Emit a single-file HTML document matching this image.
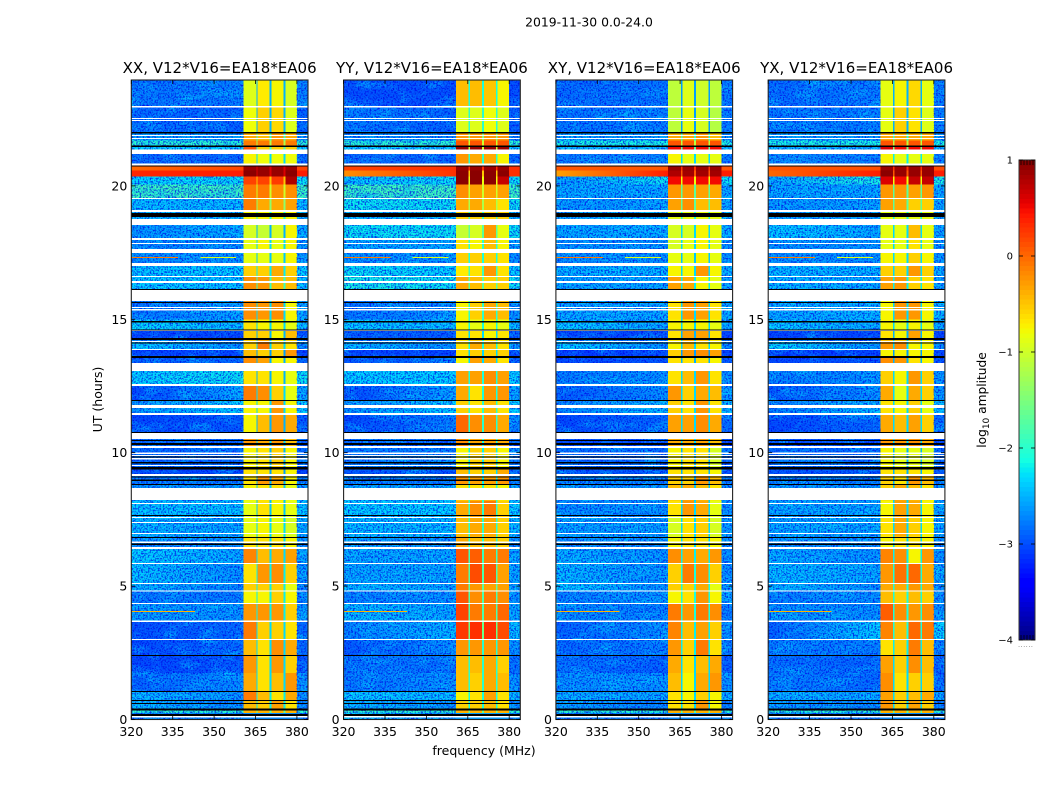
<!DOCTYPE html>
<html>
<head>
<meta charset="utf-8">
<title>2019-11-30 amplitude waterfall</title>
<style>
html,body{margin:0;padding:0;background:#fff;width:1050px;height:800px;overflow:hidden}
svg{display:block}
text{font-family:"DejaVu Sans","Liberation Sans",sans-serif;fill:#000}
</style>
</head>
<body>
<svg id="chart" xmlns="http://www.w3.org/2000/svg" width="1050" height="800" viewBox="0 0 1050 800">
  <defs>
    <filter id="speckle" x="0" y="0" width="1" height="1" color-interpolation-filters="sRGB">
      <feTurbulence type="fractalNoise" baseFrequency="0.6" numOctaves="2" seed="7" result="fine"/>
      <feColorMatrix in="fine" type="matrix" values="0 0 0 0 0  1.6 0 0 0 -0.75  0 0 0 0 0.9  0 4.5 0 0 -2" result="specks"/>
      <feTurbulence type="fractalNoise" baseFrequency="0.05 0.09" numOctaves="3" seed="11" result="coarse"/>
      <feColorMatrix in="coarse" type="matrix" values="0 0 0 0 0  0 0 0 0 0.8  0 0 0 0 1  2.2 0 0 0 -1" result="clouds"/>
      <feMerge>
        <feMergeNode in="clouds"/>
        <feMergeNode in="specks"/>
      </feMerge>
    </filter>
  </defs>
  <text x="589" y="26.5" font-size="12.4" text-anchor="middle">2019-11-30 0.0-24.0</text>
  <text x="484" y="755" font-size="12.5" text-anchor="middle">frequency (MHz)</text>
  <text x="102" y="399.5" font-size="12.5" text-anchor="middle" transform="rotate(-90 102 399.5)">UT (hours)</text>
  <text x="986" y="400" font-size="12.2" text-anchor="middle" transform="rotate(-90 986 400)">log<tspan font-size="9" dy="3">10</tspan><tspan dy="-3"> amplitude</tspan></text>
  <g id="panels"></g>
  <g id="colorbar"></g>
</svg>
<script>
const panelTitles = ["XX, V12*V16=EA18*EA06", "YY, V12*V16=EA18*EA06", "XY, V12*V16=EA18*EA06", "YX, V12*V16=EA18*EA06"];
const xTicks = [320, 335, 350, 365, 380];
const yTicks = [0, 5, 10, 15, 20];
const colorbarTicks = [1, 0, -1, -2, -3, -4];

// UT edges in hours of each time block, top to bottom.
const utEdges = [24,23,22,21.7,21.5,21.2,20.76,20.58,20.35,20.05,19.55,19.1,18.54,18.05,17.6,17.05,16.6,16.14,15,14.6,14.2,13.87,13.6,13.06,12.5,11.95,11.45,10.75,10.2,9.4,9.15,8.8,8.2,7.6,6.85,6.45,5.85,5.1,4.8,4.35,3.7,3,2.4,1.75,1.05,0.7,0.35,0.25,0];

// Frequency edges in MHz, and which value of a row fills each band:
// 2-5 sub-bands, 6 sub-band gaps, 1 the high-frequency edge.
const bandEdges = [360.7,365.3,365.8,370.1,370.8,375.2,375.8,380,384.1];
const bandSource = [2,6,3,6,4,6,5,1];
const backgroundSpan = [320, 360.7];

// log10 amplitude per block: [bgLow, bgHigh, sub1, sub2, sub3, sub4, gap]
const xxValues = [
[-2.75,-2.7,-0.9,-0.7,-0.75,-0.95,-2.5],[-2.8,-2.85,-0.8,-0.55,-0.6,-0.9,-2.5],[-2.5,-2.6,-0.35,-0.45,-0.25,-0.35,-1.9],[-2,-2,-0.1,-0.1,-0.1,-0.1,-1.2],
[-2.3,-2.3,0.1,-0.55,-0.55,-0.55,-1.8],[-2.8,-2.8,-0.75,-0.8,-0.8,-0.8,-2.3],[0,0.2,0.9,0.9,0.9,0.9,0.6],[0.35,0.4,0.95,0.9,0.9,0.95,0.6],
[-2.3,-2.2,0.2,0.2,0.25,0.8,-0.5],[-1.9,-1.9,-0.1,-0.1,-0.2,-0.2,-1],[-2.4,-2.4,-0.1,-0.35,-0.35,-0.3,-1.4],[-2.4,-2.4,-0.75,-0.75,-0.75,-0.75,-2.1],
[-2.6,-2.45,-0.95,-1.05,-0.95,-0.75,-2.5],[-2.65,-2.6,-0.85,-0.75,-0.85,-0.75,-2.3],[-2.6,-2.6,-0.85,-0.85,-0.85,-0.75,-2.4],[-2.35,-2.3,-0.55,-0.55,-0.35,-0.55,-2.2],
[-2.3,-2.35,-0.2,-0.25,-0.45,-0.45,-1.9],[-2.75,-2.5,-0.2,-0.25,-0.2,-0.75,-2.3],[-2.25,-2.4,-0.65,-0.75,-0.75,-0.85,-2.3],[-3,-3,-0.55,-0.55,-0.75,-0.45,-2.5],
[-2.3,-2.6,-0.55,-0.1,-0.55,-0.65,-2.3],[-3,-3,-0.45,-0.55,-0.55,-0.25,-2.6],[-2.9,-2.8,-0.2,-0.3,-0.75,-0.75,-2.5],[-2.3,-2.2,-0.65,-0.65,-0.75,-0.85,-2.5],
[-3,-2.5,-0.1,-0.2,-0.55,-0.85,-2.3],[-2.6,-2.3,-0.75,-0.75,-0.25,-0.75,-2.3],[-3,-2.9,-0.75,-0.45,-0.25,-0.35,-2.5],[-2.8,-2.8,-0.25,-0.35,-0.25,-0.45,-2.3],
[-2.8,-2.8,-0.75,-0.65,-0.55,-0.75,-2.5],[-3,-3,-0.65,-0.65,-0.65,-0.75,-2.6],[-2.7,-2.7,-0.65,-0.25,-0.35,-0.75,-2.5],[-2.6,-2.6,-0.75,-0.65,-0.65,-0.85,-2.4],
[-2.35,-2.35,-0.85,-0.65,-0.75,-0.85,-2.4],[-2.4,-2.5,-0.85,-0.75,-0.85,-0.95,-2.3],[-2.6,-2.6,-0.65,-0.65,-0.65,-0.75,-2.3],[-2.3,-2.5,-0.15,-0.45,-0.35,-0.3,-2.3],
[-2.35,-2.6,-0.65,-0.25,-0.2,-0.55,-2.2],[-2.4,-2.7,-0.55,-0.55,-0.55,-0.85,-2.2],[-2.7,-2.7,-0.75,-0.75,-0.55,-0.75,-2.2],[-2.55,-2.6,-0.25,-0.25,-0.25,-0.55,-2.2],
[-2.95,-2.8,-0.1,-0.55,-0.55,-0.65,-2.3],[-3,-2.8,-0.45,-0.65,-0.2,-0.35,-2.3],[-3,-2.9,-0.25,-0.65,-0.25,-0.55,-2.3],[-2.85,-2.6,-0.35,-0.65,-0.45,-0.25,-2.3],
[-2.4,-2.6,-0.1,-0.45,-0.65,-0.35,-2.2],[-2.35,-2.7,-0.45,-0.55,-0.3,-0.65,-2.2],[-2,-2,-0.4,-0.4,-0.4,-0.4,-1.6],[-2.7,-2.7,-2.7,-2.7,-2.7,-2.7,-2.7]];

const yyValues = [
[-2.95,-2.95,-0.45,-0.45,-0.5,-0.75,-2.1],[-2.7,-2.85,-0.9,-0.9,-0.8,-0.9,-2],[-2.6,-2.7,-0.25,-0.25,-0.25,-0.25,-1.5],[-2,-2,0.1,0.1,0.1,0.1,-1],
[-2.3,-2.3,0.9,0.9,0.9,0.9,-1],[-2.8,-2.8,-0.25,-0.35,-0.35,-0.75,-2],[0.2,0.3,0.9,0.9,0.9,0.9,0.3],[-0.2,0.3,0.95,0.95,0.95,0.95,-0.5],
[-2.4,-2.2,0.95,0.95,0.95,0.7,-0.8],[-1.9,-1.9,-0.2,-0.3,-0.3,-0.3,-1],[-2.2,-2.2,-0.35,-0.35,-0.45,-0.65,-1.2],[-2.4,-2.4,-0.55,-0.55,-0.55,-0.55,-1.9],
[-2.2,-2.2,-1.05,-0.95,-0.25,-0.85,-1.7],[-2.5,-2.5,-0.65,-0.75,-0.45,-0.75,-2],[-2.6,-2.6,-0.55,-0.55,-0.55,-0.65,-2.1],[-2.2,-2.3,-0.7,-0.65,-0.25,-0.65,-1.9],
[-2.1,-2.2,-0.35,-0.45,-0.55,-0.55,-1.7],[-2.75,-2.6,-0.75,-0.55,-0.35,-0.45,-2],[-2.3,-2.4,-0.75,-0.85,-0.75,-0.85,-2.1],[-2.9,-2.9,-0.65,-0.65,-0.75,-0.65,-2.3],
[-2.4,-2.6,-0.65,-0.35,-0.45,-0.65,-2.1],[-3,-3,-0.65,-0.55,-0.55,-0.55,-2.3],[-2.9,-2.8,-0.75,-0.3,-0.35,-0.65,-2.3],[-2.3,-2.3,-0.3,-0.3,-0.2,-0.3,-2.1],
[-3,-2.5,-0.35,-0.65,-0.25,-0.25,-2.1],[-2.6,-2.3,-0.55,-0.65,-0.45,-0.65,-2],[-3,-2.7,0,-0.2,-0.2,-0.35,-2],[-2.8,-2.8,-0.2,-0.3,-0.3,-0.35,-2.1],
[-2.7,-2.7,-0.75,-0.55,-0.55,-0.75,-2.2],[-2.9,-2.9,-0.45,-0.55,-0.55,-0.35,-2.3],[-2.7,-2.7,-0.25,-0.3,-0.3,-0.25,-2.2],[-2.5,-2.5,-0.65,-0.65,-0.65,-0.75,-2.1],
[-2.3,-2.3,-0.35,-0.2,-0.1,-0.55,-2],[-2.4,-2.4,-0.45,-0.35,-0.35,-0.55,-2],[-2.5,-2.6,-0.35,-0.45,-0.45,-0.55,-2],[-2.5,-2.5,0.1,0.05,-0.1,-0.1,-1.9],
[-2.5,-2.5,-0.1,0.15,0.1,-0.3,-1.8],[-2.4,-2.5,-0.1,-0.25,-0.3,-0.3,-1.7],[-2.7,-2.6,0.1,-0.2,-0.1,-0.2,-1.8],[-2.4,-2.5,0.2,-0.1,-0.1,0,-1.8],
[-2.7,-2.4,0.25,0.3,0.3,0.15,-1.6],[-2.9,-2.6,-0.25,-0.25,-0.25,-0.25,-2],[-2.75,-2.75,-0.45,-0.45,-0.35,-0.55,-2],[-2.75,-2.6,-0.45,-0.55,-0.35,-0.45,-2],
[-2.3,-2.4,-0.75,-0.65,-0.3,-0.65,-2.1],[-2.4,-2.6,-0.55,-0.55,-0.45,-0.65,-2.1],[-2,-2,-0.4,-0.4,-0.4,-0.4,-1.6],[-2.3,-2.6,-2.6,-2.6,-2.6,-2.6,-2.6]];

const xyValues = [
[-2.8,-2.75,-1.1,-0.9,-1,-1.1,-2.6],[-2.75,-2.7,-1.1,-0.85,-0.95,-1.15,-2.6],[-2.5,-2.6,-0.35,-0.35,-0.25,-0.45,-2],[-2.1,-2.1,0.1,0.1,0.1,0.1,-1.1],
[-2.4,-2.4,0.5,0.5,0.5,0.5,-1.7],[-2.7,-2.7,-0.75,-0.85,-0.85,-0.85,-2.3],[0.1,0.1,0.9,0.9,0.9,0.9,0.3],[-0.3,0.4,0.8,0.85,0.85,0.85,0.1],
[-2.6,-2.2,0.5,0.5,0.5,0.5,-0.8],[-2.5,-2.5,-0.25,-0.25,-0.3,-0.35,-1.7],[-2.6,-2.5,-0.3,-0.2,-0.45,-0.45,-1.7],[-2.5,-2.4,-0.85,-0.85,-0.85,-0.85,-2.1],
[-2.5,-2.45,-0.95,-0.95,-0.75,-0.85,-2.3],[-2.6,-2.6,-0.95,-0.85,-0.75,-0.85,-2.3],[-2.6,-2.6,-0.85,-0.85,-0.75,-0.85,-2.4],[-2.45,-2.45,-0.75,-0.75,-0.25,-0.75,-2.3],
[-2.5,-2.5,-0.3,-0.35,-0.75,-0.85,-2.2],[-2.5,-2.5,-0.65,-0.25,-0.3,-0.65,-2.3],[-2.3,-2.5,-0.75,-0.75,-0.75,-0.85,-2.3],[-3,-3,-0.65,-0.3,-0.3,-0.65,-2.5],
[-2.3,-2.6,-0.75,-0.45,-0.65,-0.75,-2.3],[-3.1,-3,-0.55,-0.25,-0.2,-0.3,-2.6],[-3,-2.9,-0.65,-0.65,-0.65,-0.75,-2.5],[-2.7,-2.6,-0.65,-0.45,-0.25,-0.65,-2.3],
[-2.9,-2.6,-0.25,-0.55,-0.35,-0.45,-2.3],[-2.7,-2.4,-0.55,-0.65,-0.25,-0.65,-2.3],[-3,-2.8,-0.3,-0.3,-0.2,-0.35,-2.3],[-2.95,-2.95,-0.35,-0.35,-0.3,-0.45,-2.3],
[-2.8,-2.8,-0.75,-0.65,-0.65,-0.95,-2.5],[-2.9,-2.9,-0.65,-0.65,-0.65,-0.75,-2.5],[-2.65,-2.65,-0.55,-0.55,-0.25,-0.45,-2.5],[-2.6,-2.6,-0.45,-0.35,-0.45,-0.65,-2.4],
[-2.6,-2.6,-0.65,-0.25,-0.35,-0.85,-2.3],[-2.5,-2.55,-0.95,-0.65,-0.55,-0.95,-2.3],[-2.6,-2.6,-0.75,-0.65,-0.65,-0.75,-2.3],[-2.45,-2.6,-0.2,-0.3,-0.35,-0.25,-2.2],
[-2.4,-2.6,-0.55,-0.1,-0.2,-0.55,-2.1],[-2.3,-2.6,-0.55,-0.55,-0.35,-0.85,-2.1],[-2.7,-2.55,-0.75,-0.65,-0.25,-0.75,-2.1],[-2.6,-2.7,-0.1,-0.25,-0.1,-0.2,-2.1],
[-2.85,-2.6,-0.15,-0.45,-0.3,-0.55,-2.2],[-2.8,-2.7,-0.25,-0.55,-0.1,-0.65,-2.2],[-2.75,-2.85,-0.35,-0.65,-0.45,-0.35,-2.3],[-2.6,-2.6,-0.45,-0.75,-0.35,-0.25,-2.3],
[-2.45,-2.5,-0.65,-0.75,-0.55,-0.75,-2.3],[-2.5,-2.7,-0.65,-0.65,-0.25,-0.75,-2.3],[-2,-2,-0.4,-0.4,-0.4,-0.4,-1.6],[-2.7,-2.7,-2.7,-2.7,-2.7,-2.7,-2.7]];

const yxValues = [
[-2.8,-2.7,-0.85,-0.75,-0.6,-0.85,-2.5],[-2.75,-2.7,-0.85,-0.55,-0.65,-0.9,-2.5],[-2.5,-2.6,-0.35,-0.35,-0.35,-0.35,-2],[-2.1,-2.1,0.1,0.1,0.1,0.1,-1.1],
[-2.4,-2.4,0.6,0.5,0.5,0.5,-1.5],[-2.6,-2.7,-0.75,-0.85,-0.85,-0.85,-2.2],[0.1,0.15,0.9,0.9,0.9,0.9,0.3],[0,0.4,0.95,0.9,0.9,0.9,0.1],
[-2.5,-2.1,0.6,0.5,0.7,0.7,-0.8],[-2.5,-2.5,-0.25,-0.25,-0.3,-0.25,-1.7],[-2.6,-2.5,-0.3,-0.35,-0.55,-0.55,-1.7],[-2.5,-2.5,-0.85,-0.85,-0.85,-0.85,-2.1],
[-2.3,-2.5,-0.85,-0.85,-0.45,-0.85,-2.3],[-2.6,-2.6,-0.85,-0.85,-0.65,-0.85,-2.3],[-2.6,-2.6,-0.75,-0.75,-0.55,-0.75,-2.3],[-2.4,-2.45,-0.55,-0.55,-0.25,-0.55,-2.3],
[-2.4,-2.5,-0.3,-0.25,-0.55,-0.65,-2.2],[-2.5,-2.45,-0.75,-0.25,-0.25,-0.75,-2.3],[-2.3,-2.5,-0.75,-0.85,-0.75,-0.85,-2.3],[-3,-3,-0.65,-0.75,-0.3,-0.75,-2.5],
[-2.25,-2.6,-0.25,-0.2,-0.75,-0.75,-2.3],[-3.1,-3,-0.75,-0.75,-0.75,-0.75,-2.6],[-3,-2.9,-0.2,-0.25,-0.65,-0.75,-2.5],[-2.7,-2.6,-0.55,-0.75,-0.25,-0.55,-2.3],
[-2.9,-2.6,-0.35,-0.85,-0.35,-0.55,-2.3],[-2.7,-2.4,-0.65,-0.75,-0.55,-0.85,-2.3],[-3,-2.8,-0.35,-0.45,-0.3,-0.55,-2.3],[-2.95,-2.95,-0.25,-0.25,-0.2,-0.35,-2.3],
[-2.8,-2.8,-0.75,-0.85,-0.85,-0.95,-2.5],[-2.9,-2.9,-0.65,-0.65,-0.65,-0.75,-2.5],[-2.7,-2.7,-0.55,-0.65,-0.25,-0.45,-2.5],[-2.6,-2.6,-0.55,-0.35,-0.45,-0.65,-2.4],
[-2.5,-2.5,-0.75,-0.3,-0.35,-0.75,-2.3],[-2.5,-2.5,-0.65,-0.35,-0.55,-0.75,-2.3],[-2.6,-2.6,-0.75,-0.65,-0.65,-0.75,-2.3],[-2.45,-2.6,-0.15,-0.2,-0.75,-0.25,-2.2],
[-2.4,-2.5,-0.25,-0.05,0,-0.35,-2.1],[-2.4,-2.6,-0.35,-0.35,-0.25,-0.35,-2.1],[-2.7,-2.6,-0.45,-0.55,-0.45,-0.55,-2.1],[-2.6,-2.6,0.05,-0.2,-0.25,-0.2,-2.1],
[-2.85,-2.3,-0.15,-0.45,0,-0.1,-2.1],[-2.7,-2.7,-0.65,-0.55,-0.1,-0.45,-2.2],[-2.75,-2.85,-0.3,-0.55,-0.2,-0.45,-2.3],[-2.7,-2.8,-0.2,-0.65,-0.55,-0.55,-2.3],
[-2.45,-2.5,-0.3,-0.55,-0.45,-0.35,-2.3],[-2.5,-2.7,-0.25,-0.55,-0.3,-0.55,-2.3],[-2,-2,-0.4,-0.4,-0.4,-0.4,-1.6],[-2.7,-2.7,-2.7,-2.7,-2.7,-2.7,-2.7]];

// Flagged time ranges in UT hours: [end, start]
const flaggedWhite = [[22.94,22.99],[22.51,22.55],[22.43,22.47],[21.87,21.91],[21.76,21.79],[21.2,21.36],[20.76,20.84],[19.51,19.55],[19.03,19.1],[18.54,18.76],[17.97,18.05],[17.82,17.86],[17.48,17.63],[17,17.11],[16.59,16.62],[16.36,16.44],[15.69,16.14],[15.43,15.46],[15.33,15.39],[14.56,14.6],[14.15,14.19],[13.85,13.89],[13.06,13.36],[12.5,12.57],[11.67,11.79],[11.41,11.49],[10.51,10.74],[10.17,10.25],[9.95,10],[9.88,9.91],[9.75,9.8],[9.5,9.54],[9.13,9.2],[8.23,8.68],[8.08,8.12],[7.55,7.59],[7.37,7.4],[6.95,6.99],[6.62,6.68],[6.39,6.47],[5.83,5.87],[5.08,5.12],[4.8,4.84],[4.33,4.37],[3.65,3.71],[2.98,3.02],[0.07,0.13]];
const flaggedBlack = [[21.96,22.02],[21.46,21.52],[20.72,20.76],[18.84,18.98],[16.1,16.14],[15.61,15.65],[14.88,14.94],[14.58,14.62],[14.22,14.3],[14.09,14.13],[13.55,13.62],[11.94,11.98],[10.74,10.78],[10.44,10.48],[10.29,10.36],[9.82,9.86],[9.6,9.65],[9.37,9.46],[9.07,9.1],[8.94,9],[8.79,8.83],[7.63,7.67],[6.8,6.84],[6.54,6.6],[2.38,2.42],[1.03,1.07],[0.69,0.73],[0.58,0.62],[0.34,0.41],[0.13,0.21]];

// Narrow interference lines: UT hour, start MHz, end MHz, log10 amplitude
const rfiHours = [17.33, 17.33, 4.07];
const rfiStart = [320, 345, 320];
const rfiEnd = [337, 358, 343];
const rfiLevel = [-0.1, -0.9, -0.4];

const allValues = [xxValues, yyValues, xyValues, yxValues];

const SVGNS = "http://www.w3.org/2000/svg";
const PANEL_LEFT0 = 131.3, PANEL_STEP = 212.3, PANEL_W = 176.7;
const PLOT_TOP = 80, PLOT_BOTTOM = 719.5;
const xPerMHz = 2.76, yPerHour = 26.68;
const CB_LEFT = 1019, CB_W = 16, CB_TOP = 160, CB_BOTTOM = 640;

function yScale(h){ return PLOT_BOTTOM - h * yPerHour; }
function xScale(left, f){ return left + (f - 320) * xPerMHz; }
function cbScale(v){ return CB_BOTTOM - (v + 4) / 5 * (CB_BOTTOM - CB_TOP); }

function lerpStops(t, xs, ys){
  for (let i = 1; i < xs.length; i++) {
    if (t <= xs[i]) return ys[i-1] + (ys[i] - ys[i-1]) * (t - xs[i-1]) / (xs[i] - xs[i-1]);
  }
  return ys[ys.length - 1];
}
function jet(v){
  const t = Math.max(0, Math.min(1, (v + 4) / 5));
  const r = lerpStops(t, [0,0.35,0.66,0.89,1], [0,0,1,1,0.5]);
  const g = lerpStops(t, [0,0.125,0.375,0.64,0.91,1], [0,0,1,1,0,0]);
  const b = lerpStops(t, [0,0.11,0.34,0.65,1], [0.5,1,1,0,0]);
  return "rgb(" + Math.round(r*255) + "," + Math.round(g*255) + "," + Math.round(b*255) + ")";
}
function make(tag, attrs, parent){
  const el = document.createElementNS(SVGNS, tag);
  for (const k in attrs) el.setAttribute(k, attrs[k]);
  parent.appendChild(el);
  return el;
}

const panelsRoot = document.getElementById("panels");
const panelNames = ["xx", "yy", "xy", "yx"];

allValues.forEach(function(values, p){
  const left = PANEL_LEFT0 + PANEL_STEP * p;
  const g = make("g", {}, panelsRoot);
  
  

  const clipId = "clip" + p;
  const cp = make("clipPath", {id: clipId}, g);
  make("rect", {x: left, y: PLOT_TOP, width: PANEL_W, height: PLOT_BOTTOM - PLOT_TOP}, cp);
  const body = make("g", {"clip-path": "url(#" + clipId + ")", "shape-rendering": "crispEdges"}, g);

  values.forEach(function(row, r){
    const y0 = yScale(utEdges[r]), y1 = yScale(utEdges[r+1]);

    // Background across 320-360.7 MHz, shaded from the low to the high value of the row.
    const gradId = "bg" + p + "-" + r;
    const grad = make("linearGradient", {id: gradId, x1: 0, x2: 1, y1: 0, y2: 0}, body);
    make("stop", {offset: 0, "stop-color": jet(row[0])}, grad);
    make("stop", {offset: 1, "stop-color": jet(row[1])}, grad);
    const bx0 = xScale(left, backgroundSpan[0]), bx1 = xScale(left, backgroundSpan[1]);
    const bg = make("rect", {x: bx0, y: y0, width: bx1 - bx0, height: y1 - y0, fill: "url(#" + gradId + ")"}, body);
    
    
    if (row[0] + row[1] < -3) {
      const grain = make("rect", {x: bx0, y: y0, width: bx1 - bx0, height: y1 - y0, filter: "url(#speckle)", opacity: 0.75}, body);
      
      
    }

    bandSource.forEach(function(src, b){
      const x0 = xScale(left, bandEdges[b]), x1 = xScale(left, bandEdges[b+1]);
      const cell = make("rect", {x: x0, y: y0, width: x1 - x0, height: y1 - y0, fill: jet(row[src])}, body);
      
      
      if (src === 1 && row[src] < -1.5) {
        const edgeGrain = make("rect", {x: x0, y: y0, width: x1 - x0, height: y1 - y0, filter: "url(#speckle)", opacity: 0.75}, body);
        
        
      }
    });
  });

  rfiHours.forEach(function(h, i){
    const x0 = xScale(left, rfiStart[i]), x1 = xScale(left, rfiEnd[i]);
    const line = make("rect", {x: x0, y: yScale(h), width: x1 - x0, height: 1, fill: jet(rfiLevel[i])}, body);
    
    
  });

  flaggedWhite.forEach(function(f){
    const band = make("rect", {x: left, y: yScale(f[1]), width: PANEL_W, height: Math.max(1, yScale(f[0]) - yScale(f[1])), fill: "#fff"}, body);
    
    
  });
  flaggedBlack.forEach(function(f){
    const band = make("rect", {x: left, y: yScale(f[1]), width: PANEL_W, height: Math.max(1, yScale(f[0]) - yScale(f[1])), fill: "#000"}, body);
    
    
  });

  const frame = make("rect", {x: left, y: PLOT_TOP, width: PANEL_W, height: PLOT_BOTTOM - PLOT_TOP, fill: "none", stroke: "#222", "stroke-width": 1.1}, g);
  
  

  const title = make("text", {x: left + PANEL_W / 2, y: 73, "font-size": 15, "text-anchor": "middle"}, g);
  title.textContent = panelTitles[p];
  
  

  xTicks.forEach(function(f){
    const x = xScale(left, f);
    make("line", {x1: x, x2: x, y1: PLOT_TOP, y2: PLOT_TOP + 4, stroke: "#000", "stroke-width": 0.8}, g);
    make("line", {x1: x, x2: x, y1: PLOT_BOTTOM, y2: PLOT_BOTTOM - 4, stroke: "#000", "stroke-width": 0.8}, g);
    const lab = make("text", {x: x, y: 736, "font-size": 12.5, "text-anchor": "middle"}, g);
    lab.textContent = f;
    
    
  });
  yTicks.forEach(function(h){
    const y = yScale(h);
    make("line", {x1: left, x2: left + 4, y1: y, y2: y, stroke: "#000", "stroke-width": 0.8}, g);
    make("line", {x1: left + PANEL_W, x2: left + PANEL_W - 4, y1: y, y2: y, stroke: "#000", "stroke-width": 0.8}, g);
    const lab = make("text", {x: left - 4, y: y + 4.5, "font-size": 12.5, "text-anchor": "end"}, g);
    lab.textContent = h;
    
    
  });
});

const cbRoot = document.getElementById("colorbar");
const cbBody = make("g", {"shape-rendering": "crispEdges"}, cbRoot);
for (let i = 0; i < 100; i++) {
  const v0 = -4 + i * 0.05;
  const top = cbScale(v0 + 0.05), bottom = cbScale(v0);
  const swatch = make("rect", {x: CB_LEFT, y: top, width: CB_W, height: bottom - top + 0.5, fill: jet(v0 + 0.025)}, cbBody);
  
  
}
const cbFrame = make("rect", {x: CB_LEFT, y: CB_TOP, width: CB_W, height: CB_BOTTOM - CB_TOP, fill: "none", stroke: "#333", "stroke-width": 1}, cbRoot);


colorbarTicks.forEach(function(v){
  const y = cbScale(v);
  make("line", {x1: CB_LEFT, x2: CB_LEFT + 4, y1: y, y2: y, stroke: "#000", "stroke-width": 0.8}, cbRoot);
  make("line", {x1: CB_LEFT + CB_W, x2: CB_LEFT + CB_W - 4, y1: y, y2: y, stroke: "#000", "stroke-width": 0.8}, cbRoot);
  const lab = make("text", {x: 1013, y: y + 3.5, "font-size": 10, "text-anchor": "end"}, cbRoot);
  lab.textContent = String(v).replace("-", "\u2212");
  
  
});
[2, 5, 8, 11, 14].forEach(function(dx){
  make("line", {x1: CB_LEFT + dx, x2: CB_LEFT + dx, y1: CB_TOP, y2: CB_TOP + 5, stroke: "#000", "stroke-width": 0.7}, cbRoot);
  make("line", {x1: CB_LEFT + dx, x2: CB_LEFT + dx, y1: CB_BOTTOM, y2: CB_BOTTOM - 5, stroke: "#000", "stroke-width": 0.7}, cbRoot);
});
const dots = make("text", {x: 1026, y: 647, "font-size": 5, "text-anchor": "middle", "letter-spacing": "1"}, cbRoot);
dots.textContent = "......";


</script>
</body>
</html>
